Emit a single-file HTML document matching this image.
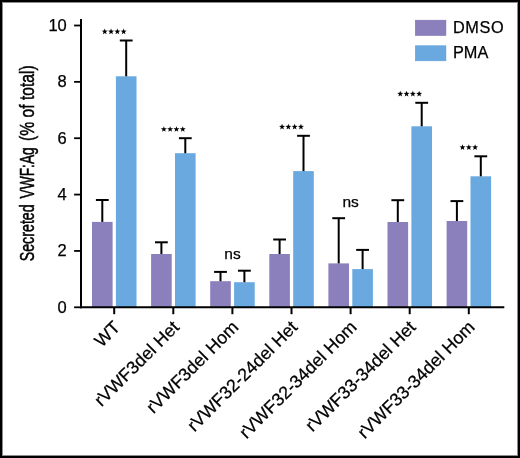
<!DOCTYPE html><html><head><meta charset="utf-8"><style>html,body{margin:0;padding:0;background:#fff;}svg{display:block;will-change:transform;}text{font-family:"Liberation Sans",sans-serif;stroke:#000;stroke-width:0.25px;}</style></head><body>
<svg width="520" height="458" viewBox="0 0 520 458">
<rect x="0" y="0" width="520" height="458" fill="#fff"/>
<rect x="92.00" y="221.90" width="20.6" height="85.40" fill="#8b7fbc"/>
<rect x="115.90" y="76.30" width="20.6" height="231.00" fill="#69a9df"/>
<rect x="151.10" y="254.00" width="20.6" height="53.30" fill="#8b7fbc"/>
<rect x="175.00" y="153.20" width="20.6" height="154.10" fill="#69a9df"/>
<rect x="210.20" y="281.20" width="20.6" height="26.10" fill="#8b7fbc"/>
<rect x="234.10" y="282.20" width="20.6" height="25.10" fill="#69a9df"/>
<rect x="269.30" y="254.00" width="20.6" height="53.30" fill="#8b7fbc"/>
<rect x="293.20" y="171.10" width="20.6" height="136.20" fill="#69a9df"/>
<rect x="328.40" y="263.40" width="20.6" height="43.90" fill="#8b7fbc"/>
<rect x="352.30" y="269.10" width="20.6" height="38.20" fill="#69a9df"/>
<rect x="387.50" y="222.00" width="20.6" height="85.30" fill="#8b7fbc"/>
<rect x="411.40" y="126.30" width="20.6" height="181.00" fill="#69a9df"/>
<rect x="446.60" y="221.00" width="20.6" height="86.30" fill="#8b7fbc"/>
<rect x="470.50" y="176.30" width="20.6" height="131.00" fill="#69a9df"/>
<line x1="102.30" y1="221.90" x2="102.30" y2="200.00" stroke="#000" stroke-width="2"/>
<line x1="95.90" y1="200.00" x2="108.70" y2="200.00" stroke="#000" stroke-width="2"/>
<line x1="126.20" y1="76.30" x2="126.20" y2="40.50" stroke="#000" stroke-width="2"/>
<line x1="119.80" y1="40.50" x2="132.60" y2="40.50" stroke="#000" stroke-width="2"/>
<line x1="161.40" y1="254.00" x2="161.40" y2="242.30" stroke="#000" stroke-width="2"/>
<line x1="155.00" y1="242.30" x2="167.80" y2="242.30" stroke="#000" stroke-width="2"/>
<line x1="185.30" y1="153.20" x2="185.30" y2="138.20" stroke="#000" stroke-width="2"/>
<line x1="178.90" y1="138.20" x2="191.70" y2="138.20" stroke="#000" stroke-width="2"/>
<line x1="220.50" y1="281.20" x2="220.50" y2="271.90" stroke="#000" stroke-width="2"/>
<line x1="214.10" y1="271.90" x2="226.90" y2="271.90" stroke="#000" stroke-width="2"/>
<line x1="244.40" y1="282.20" x2="244.40" y2="270.70" stroke="#000" stroke-width="2"/>
<line x1="238.00" y1="270.70" x2="250.80" y2="270.70" stroke="#000" stroke-width="2"/>
<line x1="279.60" y1="254.00" x2="279.60" y2="239.50" stroke="#000" stroke-width="2"/>
<line x1="273.20" y1="239.50" x2="286.00" y2="239.50" stroke="#000" stroke-width="2"/>
<line x1="303.50" y1="171.10" x2="303.50" y2="135.80" stroke="#000" stroke-width="2"/>
<line x1="297.10" y1="135.80" x2="309.90" y2="135.80" stroke="#000" stroke-width="2"/>
<line x1="338.70" y1="263.40" x2="338.70" y2="218.20" stroke="#000" stroke-width="2"/>
<line x1="332.30" y1="218.20" x2="345.10" y2="218.20" stroke="#000" stroke-width="2"/>
<line x1="362.60" y1="269.10" x2="362.60" y2="249.90" stroke="#000" stroke-width="2"/>
<line x1="356.20" y1="249.90" x2="369.00" y2="249.90" stroke="#000" stroke-width="2"/>
<line x1="397.80" y1="222.00" x2="397.80" y2="200.20" stroke="#000" stroke-width="2"/>
<line x1="391.40" y1="200.20" x2="404.20" y2="200.20" stroke="#000" stroke-width="2"/>
<line x1="421.70" y1="126.30" x2="421.70" y2="102.80" stroke="#000" stroke-width="2"/>
<line x1="415.30" y1="102.80" x2="428.10" y2="102.80" stroke="#000" stroke-width="2"/>
<line x1="456.90" y1="221.00" x2="456.90" y2="201.10" stroke="#000" stroke-width="2"/>
<line x1="450.50" y1="201.10" x2="463.30" y2="201.10" stroke="#000" stroke-width="2"/>
<line x1="480.80" y1="176.30" x2="480.80" y2="156.30" stroke="#000" stroke-width="2"/>
<line x1="474.40" y1="156.30" x2="487.20" y2="156.30" stroke="#000" stroke-width="2"/>
<line x1="81" y1="19" x2="81" y2="308.30" stroke="#000" stroke-width="2"/>
<line x1="80" y1="307.30" x2="504.3" y2="307.30" stroke="#000" stroke-width="2"/>
<line x1="74.1" y1="307.30" x2="81" y2="307.30" stroke="#000" stroke-width="1.8"/>
<text x="66.8" y="312.70" font-size="16.5" text-anchor="end">0</text>
<line x1="74.1" y1="250.94" x2="81" y2="250.94" stroke="#000" stroke-width="1.8"/>
<text x="66.8" y="256.34" font-size="16.5" text-anchor="end">2</text>
<line x1="74.1" y1="194.58" x2="81" y2="194.58" stroke="#000" stroke-width="1.8"/>
<text x="66.8" y="199.98" font-size="16.5" text-anchor="end">4</text>
<line x1="74.1" y1="138.22" x2="81" y2="138.22" stroke="#000" stroke-width="1.8"/>
<text x="66.8" y="143.62" font-size="16.5" text-anchor="end">6</text>
<line x1="74.1" y1="81.86" x2="81" y2="81.86" stroke="#000" stroke-width="1.8"/>
<text x="66.8" y="87.26" font-size="16.5" text-anchor="end">8</text>
<line x1="74.1" y1="25.50" x2="81" y2="25.50" stroke="#000" stroke-width="1.8"/>
<text x="66.8" y="30.90" font-size="16.5" text-anchor="end">10</text>
<line x1="114.20" y1="307.30" x2="114.20" y2="314.2" stroke="#000" stroke-width="2"/>
<line x1="173.30" y1="307.30" x2="173.30" y2="314.2" stroke="#000" stroke-width="2"/>
<line x1="232.40" y1="307.30" x2="232.40" y2="314.2" stroke="#000" stroke-width="2"/>
<line x1="291.50" y1="307.30" x2="291.50" y2="314.2" stroke="#000" stroke-width="2"/>
<line x1="350.60" y1="307.30" x2="350.60" y2="314.2" stroke="#000" stroke-width="2"/>
<line x1="409.70" y1="307.30" x2="409.70" y2="314.2" stroke="#000" stroke-width="2"/>
<line x1="468.80" y1="307.30" x2="468.80" y2="314.2" stroke="#000" stroke-width="2"/>
<polygon points="104.75,28.45 105.50,30.56 107.75,30.63 105.97,32.00 106.60,34.15 104.75,32.88 102.90,34.15 103.53,32.00 101.75,30.63 104.00,30.56" fill="#000"/>
<polygon points="111.05,28.45 111.80,30.56 114.05,30.63 112.27,32.00 112.90,34.15 111.05,32.88 109.20,34.15 109.83,32.00 108.05,30.63 110.30,30.56" fill="#000"/>
<polygon points="117.35,28.45 118.10,30.56 120.35,30.63 118.57,32.00 119.20,34.15 117.35,32.88 115.50,34.15 116.13,32.00 114.35,30.63 116.60,30.56" fill="#000"/>
<polygon points="123.65,28.45 124.40,30.56 126.65,30.63 124.87,32.00 125.50,34.15 123.65,32.88 121.80,34.15 122.43,32.00 120.65,30.63 122.90,30.56" fill="#000"/>
<polygon points="163.85,126.15 164.60,128.26 166.85,128.33 165.07,129.70 165.70,131.85 163.85,130.58 162.00,131.85 162.63,129.70 160.85,128.33 163.10,128.26" fill="#000"/>
<polygon points="170.15,126.15 170.90,128.26 173.15,128.33 171.37,129.70 172.00,131.85 170.15,130.58 168.30,131.85 168.93,129.70 167.15,128.33 169.40,128.26" fill="#000"/>
<polygon points="176.45,126.15 177.20,128.26 179.45,128.33 177.67,129.70 178.30,131.85 176.45,130.58 174.60,131.85 175.23,129.70 173.45,128.33 175.70,128.26" fill="#000"/>
<polygon points="182.75,126.15 183.50,128.26 185.75,128.33 183.97,129.70 184.60,131.85 182.75,130.58 180.90,131.85 181.53,129.70 179.75,128.33 182.00,128.26" fill="#000"/>
<text x="232.50" y="259.10" font-size="15.5" text-anchor="middle">ns</text>
<polygon points="282.05,123.75 282.80,125.86 285.05,125.93 283.27,127.30 283.90,129.45 282.05,128.18 280.20,129.45 280.83,127.30 279.05,125.93 281.30,125.86" fill="#000"/>
<polygon points="288.35,123.75 289.10,125.86 291.35,125.93 289.57,127.30 290.20,129.45 288.35,128.18 286.50,129.45 287.13,127.30 285.35,125.93 287.60,125.86" fill="#000"/>
<polygon points="294.65,123.75 295.40,125.86 297.65,125.93 295.87,127.30 296.50,129.45 294.65,128.18 292.80,129.45 293.43,127.30 291.65,125.93 293.90,125.86" fill="#000"/>
<polygon points="300.95,123.75 301.70,125.86 303.95,125.93 302.17,127.30 302.80,129.45 300.95,128.18 299.10,129.45 299.73,127.30 297.95,125.93 300.20,125.86" fill="#000"/>
<text x="350.70" y="206.60" font-size="15.5" text-anchor="middle">ns</text>
<polygon points="400.25,90.75 401.00,92.86 403.25,92.93 401.47,94.30 402.10,96.45 400.25,95.18 398.40,96.45 399.03,94.30 397.25,92.93 399.50,92.86" fill="#000"/>
<polygon points="406.55,90.75 407.30,92.86 409.55,92.93 407.77,94.30 408.40,96.45 406.55,95.18 404.70,96.45 405.33,94.30 403.55,92.93 405.80,92.86" fill="#000"/>
<polygon points="412.85,90.75 413.60,92.86 415.85,92.93 414.07,94.30 414.70,96.45 412.85,95.18 411.00,96.45 411.63,94.30 409.85,92.93 412.10,92.86" fill="#000"/>
<polygon points="419.15,90.75 419.90,92.86 422.15,92.93 420.37,94.30 421.00,96.45 419.15,95.18 417.30,96.45 417.93,94.30 416.15,92.93 418.40,92.86" fill="#000"/>
<polygon points="462.50,144.25 463.25,146.36 465.50,146.43 463.72,147.80 464.35,149.95 462.50,148.68 460.65,149.95 461.28,147.80 459.50,146.43 461.75,146.36" fill="#000"/>
<polygon points="468.80,144.25 469.55,146.36 471.80,146.43 470.02,147.80 470.65,149.95 468.80,148.68 466.95,149.95 467.58,147.80 465.80,146.43 468.05,146.36" fill="#000"/>
<polygon points="475.10,144.25 475.85,146.36 478.10,146.43 476.32,147.80 476.95,149.95 475.10,148.68 473.25,149.95 473.88,147.80 472.10,146.43 474.35,146.36" fill="#000"/>
<text transform="translate(117.20,324.30) rotate(-45)" x="0" y="5.7" font-size="17.8" text-anchor="end">WT</text>
<text transform="translate(176.30,324.30) rotate(-45)" x="0" y="5.7" font-size="17.8" text-anchor="end">rVWF3del Het</text>
<text transform="translate(235.40,324.30) rotate(-45)" x="0" y="5.7" font-size="17.8" text-anchor="end">rVWF3del Hom</text>
<text transform="translate(294.50,324.30) rotate(-45)" x="0" y="5.7" font-size="17.8" text-anchor="end">rVWF32-24del Het</text>
<text transform="translate(353.60,324.30) rotate(-45)" x="0" y="5.7" font-size="17.8" text-anchor="end">rVWF32-34del Hom</text>
<text transform="translate(412.70,324.30) rotate(-45)" x="0" y="5.7" font-size="17.8" text-anchor="end">rVWF33-34del Het</text>
<text transform="translate(471.80,324.30) rotate(-45)" x="0" y="5.7" font-size="17.8" text-anchor="end">rVWF33-34del Hom</text>
<rect x="415.25" y="20.15" width="30.7" height="15.4" fill="#8b7fbc" stroke="#7f72b4" stroke-width="0.5"/>
<rect x="415.25" y="45.75" width="30.7" height="15.1" fill="#69a9df" stroke="#5b9fdb" stroke-width="0.5"/>
<text x="453" y="33.2" font-size="16.3" letter-spacing="0.6">DMSO</text>
<text x="453" y="58.3" font-size="16.3">PMA</text>
<text transform="translate(33.9,261.3) rotate(-90) scale(0.678,1)" x="0" y="0" font-size="21" style="stroke-width:0.5px">Secreted</text>
<text transform="translate(33.9,198.5) rotate(-90) scale(0.656,1)" x="0" y="0" font-size="21" style="stroke-width:0.5px">VWF:Ag</text>
<text transform="translate(33.9,140.95) rotate(-90) scale(0.746,1)" x="0" y="0" font-size="21" style="stroke-width:0.5px">(% of total)</text>
<rect x="1" y="1" width="518" height="456" fill="none" stroke="#000" stroke-width="2"/>
<rect x="2.5" y="2.5" width="515" height="453" fill="none" stroke="#000" stroke-opacity="0.45" stroke-width="1"/>
</svg></body></html>
